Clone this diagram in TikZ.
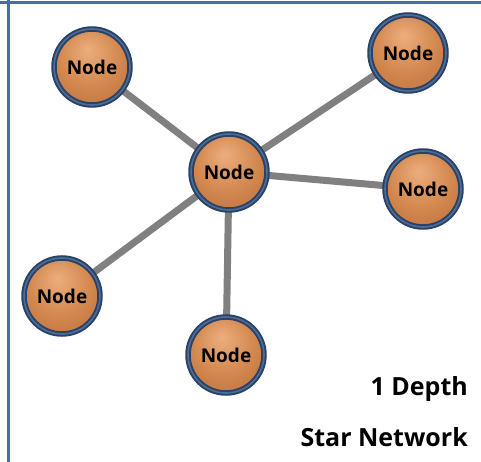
\documentclass[tikz,border=0pt]{standalone}
\usepackage{fontspec}
\setmainfont{Open Sans}
\usetikzlibrary{backgrounds,shadows}
\definecolor{frameblue}{HTML}{4A6E9E}
\definecolor{ringblue}{HTML}{2A4266}
\definecolor{ringlight}{HTML}{4D6C97}
\definecolor{orLight}{HTML}{ECAE7E}
\definecolor{orMid}{HTML}{D3884F}
\definecolor{orDeep}{HTML}{BA6B39}
\definecolor{orDark}{HTML}{8E4C27}
\definecolor{linkgray}{HTML}{808080}
\pgfdeclareradialshading{ball}{\pgfpoint{-3bp}{12bp}}{%
  color(0bp)=(orLight); color(20bp)=(orMid); color(40bp)=(orDeep); color(47bp)=(orDark); color(50bp)=(orDark)}
\tikzset{
  netnode/.style={circle, minimum size=76pt, inner sep=0pt,
    shading=ball, draw=ringblue, line width=5.5pt,
    font=\bfseries\fontsize{19}{19}\selectfont, text=black,
    drop shadow={shadow xshift=1pt, shadow yshift=-1.5pt, opacity=0.3, fill=black!70},
    postaction={draw=ringlight, line width=1.6pt}},
  link/.style={draw=linkgray, line width=7pt},
  caption/.style={anchor=east, font=\bfseries\fontsize{25}{25}\selectfont, inner sep=0pt},
  frameline/.style={draw=frameblue, line width=3pt}
}
\begin{document}
\begin{tikzpicture}[x=1pt,y=-1pt]
\useasboundingbox (0,0) rectangle (481,462);
% page frame
\draw[frameline] (0,3) -- (481,3);
\draw[frameline] (8,0) -- (8,462);
% nodes
\node[netnode] (hub) at (229,172) {Node};
\node[netnode] (tl) at (92,67) {Node};
\node[netnode] (tr) at (408,53) {Node};
\node[netnode] (r) at (423,189) {Node};
\node[netnode] (bl) at (62,296) {Node};
\node[netnode] (b) at (226,355) {Node};
% links from the hub
\begin{scope}[on background layer]
\draw[link] (hub.center) -- (tl.center);
\draw[link] (hub.center) -- (tr.center);
\draw[link] (hub.center) -- (r.center);
\draw[link] (hub.center) -- (bl.center);
\draw[link] (hub.center) -- (b.center);
\end{scope}
% captions
\node[caption] (depth) at (468,389) {1 Depth};
\node[caption] (title) at (468,437) {Star Network};
\end{tikzpicture}
\end{document}
